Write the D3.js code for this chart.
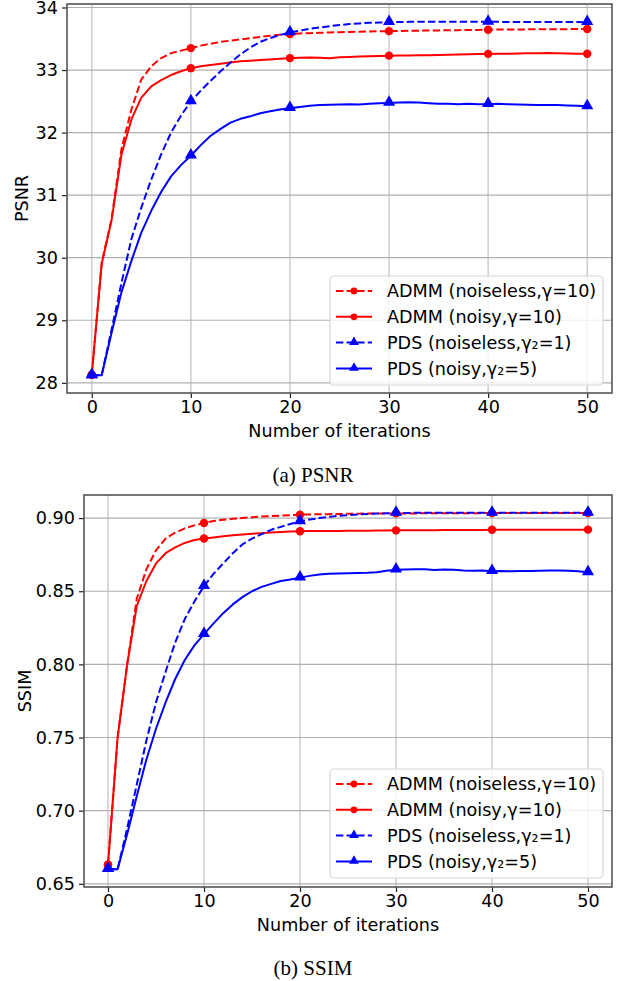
<!DOCTYPE html>
<html lang="en">
<head>
<meta charset="UTF-8" />
<title>PSNR / SSIM vs iterations</title>
<script src="https://d3js.org/d3.v7.min.js"></script>
<style>
  body { margin: 0; background: #fff; }
  svg { display: block; }
  .tick text { font-family: "DejaVu Sans", sans-serif; }
</style>
</head>
<body>
<svg width="628" height="981"></svg>
<script>
// iteration index 0..50
var iterations = d3.range(0, 51);
var xTicks = [0, 10, 20, 30, 40, 50];

var seriesNames = [
  "ADMM (noiseless,\u03b3=10)",
  "ADMM (noisy,\u03b3=10)",
  "PDS (noiseless,\u03b3\u2082=1)",
  "PDS (noisy,\u03b3\u2082=5)"
];

// PSNR values
var psnrAdmmNoiseless = [28.13, 29.92, 30.62, 31.74, 32.37, 32.85, 33.06, 33.19, 33.27, 33.31, 33.35,
  33.39, 33.42, 33.45, 33.47, 33.49, 33.51, 33.53, 33.55, 33.565, 33.575,
  33.585, 33.59, 33.595, 33.60, 33.605, 33.61, 33.613, 33.616, 33.62, 33.622,
  33.625, 33.628, 33.63, 33.632, 33.634, 33.636, 33.638, 33.64, 33.642, 33.645,
  33.647, 33.648, 33.649, 33.65, 33.651, 33.652, 33.653, 33.654, 33.655, 33.656];
var psnrAdmmNoisy = [28.13, 29.9, 30.6, 31.65, 32.21, 32.56, 32.74, 32.84, 32.92, 32.98, 33.03,
  33.06, 33.08, 33.1, 33.12, 33.14, 33.15, 33.16, 33.17, 33.18, 33.19,
  33.195, 33.2, 33.195, 33.19, 33.205, 33.21, 33.215, 33.22, 33.225, 33.23,
  33.232, 33.234, 33.236, 33.238, 33.24, 33.245, 33.25, 33.253, 33.256, 33.258,
  33.26, 33.262, 33.265, 33.268, 33.27, 33.272, 33.27, 33.266, 33.262, 33.26];
var psnrPdsNoiseless = [28.12, 28.12, 28.85, 29.6, 30.3, 30.8, 31.25, 31.65, 32.0, 32.27, 32.5,
  32.67, 32.83, 32.98, 33.12, 33.25, 33.36, 33.45, 33.51, 33.56, 33.6,
  33.63, 33.66, 33.68, 33.7, 33.72, 33.735, 33.745, 33.755, 33.76, 33.765,
  33.768, 33.77, 33.772, 33.773, 33.773, 33.772, 33.772, 33.771, 33.77, 33.77,
  33.77, 33.769, 33.769, 33.768, 33.768, 33.767, 33.767, 33.766, 33.766, 33.765];
var psnrPdsNoisy = [28.12, 28.12, 28.8, 29.45, 29.95, 30.4, 30.75, 31.05, 31.3, 31.48, 31.63,
  31.8, 31.95, 32.06, 32.16, 32.22, 32.26, 32.31, 32.34, 32.37, 32.39,
  32.41, 32.43, 32.44, 32.445, 32.45, 32.455, 32.45, 32.46, 32.47, 32.475,
  32.48, 32.485, 32.48, 32.47, 32.46, 32.46, 32.455, 32.46, 32.455, 32.455,
  32.46, 32.455, 32.45, 32.445, 32.44, 32.44, 32.44, 32.435, 32.43, 32.42];

// SSIM values
var ssimAdmmNoiseless = [0.663, 0.75, 0.80, 0.845, 0.865, 0.878, 0.886, 0.890, 0.893, 0.895, 0.8966,
  0.898, 0.8988, 0.8995, 0.9001, 0.9006, 0.901, 0.9014, 0.9017, 0.902, 0.9023,
  0.9025, 0.9026, 0.9027, 0.9028, 0.9029, 0.903, 0.9031, 0.9031, 0.9032, 0.9032,
  0.9032, 0.9032, 0.9033, 0.9033, 0.9033, 0.9033, 0.9033, 0.9033, 0.9034, 0.9034,
  0.9034, 0.9034, 0.9034, 0.9034, 0.9034, 0.9034, 0.9034, 0.9034, 0.9034, 0.9034];
var ssimAdmmNoisy = [0.663, 0.75, 0.80, 0.84, 0.857, 0.869, 0.876, 0.880, 0.883, 0.885, 0.886,
  0.8868, 0.8876, 0.8882, 0.8888, 0.8893, 0.8897, 0.8901, 0.8905, 0.8908, 0.891,
  0.8911, 0.8911, 0.8912, 0.8912, 0.8913, 0.8913, 0.8914, 0.8915, 0.8915, 0.8916,
  0.8916, 0.8916, 0.8917, 0.8917, 0.8918, 0.8918, 0.8919, 0.8919, 0.8919, 0.892,
  0.892, 0.892, 0.892, 0.892, 0.8921, 0.8921, 0.8921, 0.8921, 0.8921, 0.8921];
var ssimPdsNoiseless = [0.66, 0.66, 0.688, 0.718, 0.748, 0.774, 0.795, 0.815, 0.831, 0.843, 0.8535,
  0.862, 0.869, 0.876, 0.882, 0.886, 0.889, 0.892, 0.894, 0.896, 0.8977,
  0.899, 0.9, 0.9008, 0.9015, 0.902, 0.9024, 0.9028, 0.9031, 0.9033, 0.9035,
  0.9035, 0.9036, 0.9036, 0.9036, 0.9036, 0.9036, 0.9036, 0.9036, 0.9036, 0.9036,
  0.9036, 0.9036, 0.9036, 0.9036, 0.9036, 0.9036, 0.9036, 0.9036, 0.9036, 0.9036];
var ssimPdsNoisy = [0.66, 0.66, 0.684, 0.71, 0.735, 0.756, 0.774, 0.79, 0.803, 0.813, 0.8207,
  0.828, 0.835, 0.841, 0.846, 0.85, 0.853, 0.855, 0.857, 0.858, 0.8593,
  0.8605, 0.8615, 0.862, 0.8622, 0.8623, 0.8624, 0.8626, 0.863, 0.864, 0.8647,
  0.8649, 0.865, 0.865, 0.8645, 0.8648, 0.8646, 0.8641, 0.864, 0.8641, 0.8637,
  0.8638, 0.8637, 0.8638, 0.8639, 0.864, 0.8641, 0.8641, 0.864, 0.8636, 0.8629];

var psnrTicks = [28, 29, 30, 31, 32, 33, 34];
var ssimTicks = [0.65, 0.70, 0.75, 0.80, 0.85, 0.90];

var colors = ["#ff0000", "#ff0000", "#0000ff", "#0000ff"];
var dashed = [true, false, true, false];
var markers = ["circle", "circle", "triangle", "triangle"];

var svg = d3.select("svg");
var font = "'DejaVu Sans', sans-serif";
var fs = 17.6;

function drawChart(box, series, yTicks, yFmt, yLabel, caption) {
  var all = [].concat.apply([], series);
  var ext = d3.extent(all), pad = (ext[1] - ext[0]) * 0.05;

  var x = d3.scaleLinear().domain([-2.5, 52.5]).range([box.left, box.right]);
  var y = d3.scaleLinear().domain([ext[0] - pad, ext[1] + pad]).range([box.bottom, box.top]);

  var g = svg.append("g");

  // grid
  g.append("g").selectAll("line").data(xTicks).enter().append("line")
    .attr("x1", d => x(d)).attr("x2", d => x(d))
    .attr("y1", box.top).attr("y2", box.bottom)
    .attr("stroke", "#b0b0b0").attr("stroke-opacity", 0.6).attr("stroke-width", 1.6);
  g.append("g").selectAll("line").data(yTicks).enter().append("line")
    .attr("x1", box.left).attr("x2", box.right)
    .attr("y1", d => y(d)).attr("y2", d => y(d))
    .attr("stroke", "#b0b0b0").attr("stroke-width", 1.2);

  // axes
  var xa = g.append("g").attr("transform", "translate(0," + box.bottom + ")")
    .call(d3.axisBottom(x).tickValues(xTicks).tickSize(5).tickPadding(3));
  var ya = g.append("g").attr("transform", "translate(" + box.left + ",0)")
    .call(d3.axisLeft(y).tickValues(yTicks).tickFormat(yFmt).tickSize(5).tickPadding(4));
  [xa, ya].forEach(function (a) {
    a.select(".domain").remove();
    a.selectAll(".tick line").attr("stroke", "#222").attr("stroke-width", 1.2);
    a.selectAll(".tick text").attr("font-size", fs).attr("fill", "#000").attr("font-family", font);
  });

  // frame
  g.append("rect").attr("x", box.left).attr("y", box.top)
    .attr("width", box.right - box.left).attr("height", box.bottom - box.top)
    .attr("fill", "none").attr("stroke", "#555").attr("stroke-width", 1.6);

  var plot = g.append("g");
  var line = d3.line().x((d, i) => x(iterations[i])).y(d => y(d));

  series.forEach(function (vals, k) {
    plot.append("path").datum(vals)
      .attr("d", line).attr("fill", "none")
      .attr("stroke", colors[k]).attr("stroke-width", 2)
      .attr("stroke-linejoin", "round")
      .attr("stroke-dasharray", dashed[k] ? "7.4,3.2" : null);
    var pts = iterations.filter(i => i % 10 === 0);
    drawMarkers(plot, pts.map(i => [x(i), y(vals[i])]), k, 4.2);
  });

  // axis labels
  g.append("text").attr("x", (box.left + box.right) / 2).attr("y", box.bottom + 38)
    .attr("dy", "0.35em")
    .attr("text-anchor", "middle").attr("font-family", font).attr("font-size", fs)
    .text("Number of iterations");
  g.append("text")
    .attr("transform", "translate(" + box.ylabelX + "," + (box.top + box.bottom) / 2 + ") rotate(-90)")
    .attr("dy", "0.35em")
    .attr("text-anchor", "middle").attr("font-family", font).attr("font-size", fs)
    .text(yLabel);

  // legend
  var lg = g.append("g");
  lg.append("rect").attr("x", box.legX).attr("y", box.legY).attr("width", 273).attr("height", 109)
    .attr("rx", 4).attr("fill", "#fff").attr("fill-opacity", 0.8)
    .attr("stroke", "#d6d6d6").attr("stroke-width", 1.2);
  seriesNames.forEach(function (name, k) {
    var ry = box.legY + 15 + k * 25.8;
    lg.append("line").attr("x1", box.legX + 6).attr("x2", box.legX + 42)
      .attr("y1", ry).attr("y2", ry)
      .attr("stroke", colors[k]).attr("stroke-width", 2)
      .attr("stroke-dasharray", dashed[k] ? "7.4,3.2" : null);
    drawMarkers(lg, [[box.legX + 24, ry]], k, 3.4);
    lg.append("text").attr("x", box.legX + 57).attr("y", ry).attr("dy", "0.35em")
      .attr("font-family", font).attr("font-size", fs).text(name);
  });

  // caption
  svg.append("text").attr("x", 313).attr("y", box.captionY)
    .attr("dy", "0.35em")
    .attr("text-anchor", "middle").attr("font-family", "'Liberation Serif', serif")
    .attr("font-size", 21).text(caption);
}

function drawMarkers(sel, pts, k, r) {
  if (markers[k] === "circle") {
    sel.selectAll(null).data(pts).enter().append("circle")
      .attr("cx", d => d[0]).attr("cy", d => d[1]).attr("r", r)
      .attr("fill", colors[k]);
  } else {
    var sym = d3.symbol().type(d3.symbolTriangle).size(r * r * 3.6);
    sel.selectAll(null).data(pts).enter().append("path")
      .attr("transform", d => "translate(" + d[0] + "," + (d[1] - r * 0.15) + ")")
      .attr("d", sym).attr("fill", colors[k]);
  }
}

drawChart({left: 67, right: 612, top: 4, bottom: 393, ylabelX: 22, legX: 330, legY: 276, captionY: 475},
  [psnrAdmmNoiseless, psnrAdmmNoisy, psnrPdsNoiseless, psnrPdsNoisy],
  psnrTicks, d3.format("d"), "PSNR", "(a) PSNR");

drawChart({left: 84, right: 612, top: 495, bottom: 887, ylabelX: 25, legX: 330, legY: 769, captionY: 968},
  [ssimAdmmNoiseless, ssimAdmmNoisy, ssimPdsNoiseless, ssimPdsNoisy],
  ssimTicks, d3.format(".2f"), "SSIM", "(b) SSIM");
</script>
</body>
</html>
